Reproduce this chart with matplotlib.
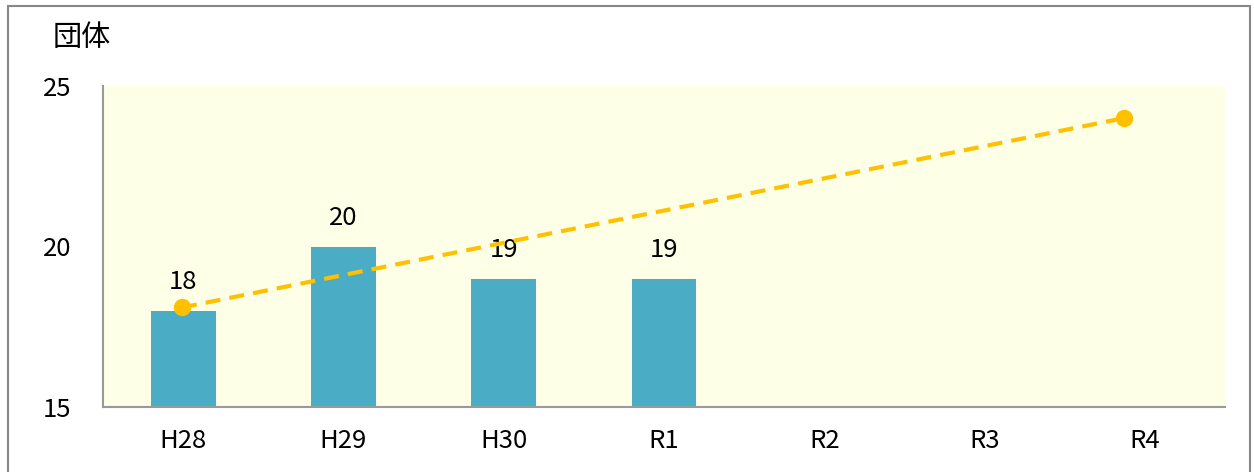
import matplotlib
matplotlib.use("Agg")
import matplotlib.pyplot as plt
import numpy as np
from matplotlib.patches import Rectangle

plt.rcParams['font.family'] = ['Noto Sans CJK JP', 'DejaVu Sans']

categories = ["H28", "H29", "H30", "R1", "R2", "R3", "R4"]
bar_values = [18, 20, 19, 19]
target_x = ["H28", "R4"]
target_values = [18.1, 24]
y_label = "団体"
y_ticks = [15, 20, 25]

W, H = 1254, 472
FS = 18.5
fig = plt.figure(figsize=(W / 100, H / 100), dpi=100)
ax = fig.add_axes([103 / W, 1 - 407 / H, (1225 - 103) / W, (407 - 86) / H])
ax.set_facecolor("#FEFFE7")

x = np.arange(len(categories))
bx = x[:len(bar_values)]
ax.bar(bx, np.array(bar_values) - 15, bottom=15, width=0.405, color="#4BACC6", zorder=2)
for xi, v in zip(bx, bar_values):
    ax.annotate(str(v), (xi, v), xytext=(0, 11), textcoords="offset points",
                ha="center", va="bottom", fontsize=FS, color="black", zorder=4)

ax.set_xlim(-0.5, len(categories) - 0.5)
ax.set_ylim(15, 25)
ax.set_yticks(y_ticks)
ax.set_yticklabels([str(t) for t in y_ticks], fontsize=FS)
ax.set_xticks(x)
ax.set_xticklabels(categories, fontsize=FS)
ax.tick_params(axis="both", length=0)
ax.tick_params(axis="y", pad=23)
ax.tick_params(axis="x", pad=15)
for s in ["top", "right"]:
    ax.spines[s].set_visible(False)
for s in ["left", "bottom"]:
    ax.spines[s].set_color("#999999")
    ax.spines[s].set_linewidth(1.5)

# target line drawn on a secondary category axis (slightly different spacing)
ax2 = ax.twiny()
ax2.set_xlim(-0.503, 6.643)
ax2.set_ylim(15, 25)
ax2.axis("off")
tx = [categories.index(c) for c in target_x]
ax2.plot(tx, target_values, color="#FFC000", lw=3, ls=(0, (3.6, 2.2)), zorder=3)
ax2.plot(tx, target_values, ls="none", marker="o", ms=11.5, color="#FFC000", zorder=3)

fig.text(53 / W, 1 - 38 / H, y_label, fontsize=21, ha="left", va="center")

fig.patches.append(Rectangle((8 / W, -10 / H), (1250 - 8) / W, (466 + 10) / H,
                             transform=fig.transFigure, fill=False,
                             edgecolor="#888888", lw=1.5, clip_on=False))

fig.savefig("out.png", dpi=100)
